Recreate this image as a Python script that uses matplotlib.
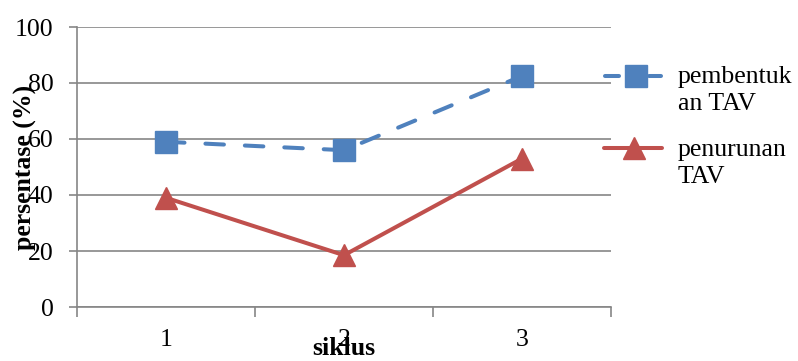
import matplotlib
matplotlib.use("Agg")
import matplotlib.pyplot as plt
from matplotlib.lines import Line2D

categories = ["1", "2", "3"]
pembentukan = [59, 56, 82.5]
penurunan = [39, 18.5, 53]
series_names = ["pembentuk\nan TAV", "penurunan\nTAV"]
yticks = [0, 20, 40, 60, 80, 100]

plt.rcParams['font.family'] = ['Liberation Serif', 'DejaVu Serif']

W, H = 798, 361
fig = plt.figure(figsize=(W / 100, H / 100), dpi=100)
ax = fig.add_axes([77/W, 1-307/H, (611-77)/W, (307-27)/H])

blue = '#4F81BD'
red = '#C0504D'
grid = '#868686'
FS = 18.5
LW = 2.9
dash = (0, (4.6, 5.2))

x = list(range(len(categories)))
ax.plot(x, pembentukan, color=blue, lw=LW, ls=dash, marker='s',
        markersize=15.5, markeredgecolor=blue, markerfacecolor=blue, zorder=3,
        dash_capstyle='round')
ax.plot(x, penurunan, color=red, lw=LW, marker='^', markersize=16,
        markeredgecolor=red, markerfacecolor=red, zorder=3,
        solid_capstyle='round', solid_joinstyle='round')

ax.set_xlim(-0.5, len(categories) - 0.5)
ax.set_ylim(0, 100)
ax.set_yticks(yticks)
ax.set_yticklabels([str(v) for v in yticks], fontsize=FS)
ax.set_xticks(x)
ax.set_xticklabels(categories, fontsize=FS)
ax.tick_params(axis='x', which='major', length=0, pad=15.5)
ax.set_xticks([i - 0.5 for i in range(len(categories) + 1)], minor=True)
ax.tick_params(axis='x', which='minor', length=7, color=grid, width=1.2)
ax.tick_params(axis='y', which='major', length=6, color=grid, width=1.2, pad=11)

ax.grid(axis='y', color=grid, lw=1.2)
for s in ['top', 'right']:
    ax.spines[s].set_visible(False)
for s in ['left', 'bottom']:
    ax.spines[s].set_color(grid)
    ax.spines[s].set_linewidth(1.2)

ax.set_ylabel('persentase (%)', fontsize=FS, fontweight='bold')
ax.yaxis.set_label_coords(-0.075, 0.5)
ax.set_xlabel('siklus', fontsize=FS, fontweight='bold')
ax.xaxis.set_label_coords(0.5, -0.107)

# manual legend (figure pixel coordinates, from top-left)
def fx(px):
    return px / W

def fy(py):
    return 1 - py / H

# blue legend handle: two short dashes around the square marker
for x0, x1 in [(605, 619), (649, 661)]:
    fig.add_artist(Line2D([fx(x0), fx(x1)], [fy(76), fy(76)], color=blue, lw=LW,
                          solid_capstyle='round'))
fig.add_artist(Line2D([fx(636)], [fy(76)], color=blue, marker='s', markersize=15.5,
                      markerfacecolor=blue, markeredgecolor=blue, ls='none'))
fig.text(fx(678), fy(85 - 19), series_names[0], fontsize=FS, ha='left', va='top',
         linespacing=1.32)

# red legend handle
fig.add_artist(Line2D([fx(604), fx(662)], [fy(148), fy(148)], color=red, lw=LW,
                      solid_capstyle='round'))
fig.add_artist(Line2D([fx(634)], [fy(148)], color=red, marker='^', markersize=16,
                      markerfacecolor=red, markeredgecolor=red, ls='none'))
fig.text(fx(678), fy(158 - 19), series_names[1], fontsize=FS, ha='left', va='top',
         linespacing=1.32)

fig.savefig('out.png', dpi=100)
